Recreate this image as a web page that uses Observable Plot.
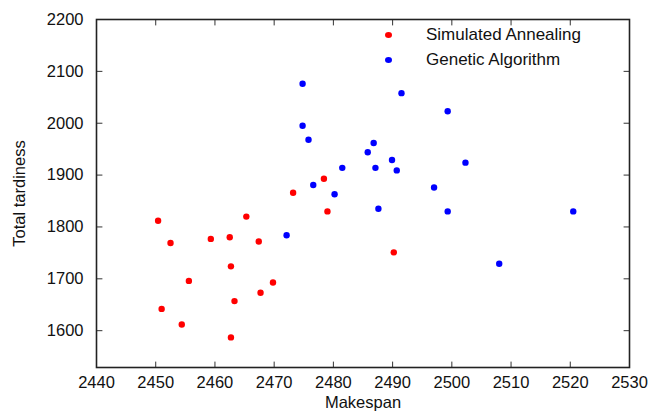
<!DOCTYPE html>
<html>
<head>
<meta charset="utf-8">
<script src="https://cdn.jsdelivr.net/npm/d3@7"></script>
<script src="https://cdn.jsdelivr.net/npm/@observablehq/plot@0.6"></script>
<style>
  html, body { margin: 0; padding: 0; background: #fff; }
  #wrap { position: relative; width: 661px; height: 411px; font-family: "Liberation Sans", Arial, Helvetica, sans-serif; }
  #legend { position: absolute; left: 380px; top: 22px; font-size: 17px; color: #111; }
  .row { display: flex; align-items: center; height: 25.5px; }
  .sw { width: 7px; height: 6px; border-radius: 50%; margin-left: 5px; margin-right: 34px; }
</style>
</head>
<body>
<div id="wrap"><div id="legend"></div></div>
<script>
const seriesNames = ["Simulated Annealing", "Genetic Algorithm"];
const seriesColors = ["#ff0000", "#0000ff"];

const saMakespan = [2450.4, 2452.5, 2459.3, 2462.5, 2465.3, 2467.4, 2455.6, 2462.7, 2469.8, 2467.7, 2463.3, 2451.0, 2454.4, 2462.7, 2479.0, 2473.2, 2478.4, 2490.2];
const saTardiness = [1812, 1769, 1777, 1780, 1820, 1772, 1696, 1724, 1693, 1673, 1657, 1642, 1612, 1587, 1830, 1866, 1893, 1751];

const gaMakespan = [2474.8, 2474.8, 2475.8, 2476.6, 2491.5, 2499.3, 2486.8, 2485.8, 2481.5, 2487.1, 2489.9, 2490.7, 2502.3, 2497.0, 2480.2, 2487.6, 2499.3, 2520.5, 2508.0, 2472.1];
const gaTardiness = [2076, 1995, 1968, 1881, 2058, 2023, 1962, 1944, 1914, 1914, 1929, 1909, 1924, 1876, 1863, 1835, 1830, 1830, 1729, 1784];

const xTicks = [2440, 2450, 2460, 2470, 2480, 2490, 2500, 2510, 2520, 2530];
const yTicks = [1600, 1700, 1800, 1900, 2000, 2100, 2200];

const points = [
  ...saMakespan.map((x, i) => ({x, y: saTardiness[i], s: seriesNames[0]})),
  ...gaMakespan.map((x, i) => ({x, y: gaTardiness[i], s: seriesNames[1]}))
];

const font = '"Liberation Sans", Arial, Helvetica, sans-serif';
const tickShape = {draw(ctx, l) { ctx.moveTo(0, 0); ctx.lineTo(0, -l); }};
const tickLen = 5.5;
const tickStyle = {length: tickLen, anchor: "start", shape: tickShape, stroke: "#333", strokeWidth: 1};

const chart = Plot.plot({
  width: 661,
  height: 411,
  marginLeft: 96,
  marginRight: 32,
  marginTop: 19,
  marginBottom: 44,
  style: {fontSize: "16.5px", fontFamily: font, color: "#111", background: "#fff"},
  x: {domain: [2440, 2530]},
  y: {domain: [1529, 2200]},
  color: {domain: seriesNames, range: seriesColors},
  marks: [
    Plot.dot(points, {x: "x", y: "y", fill: "s", r: 3.2, stroke: null}),
    // inward ticks on all four sides
    Plot.vector(xTicks, {x: d => d, frameAnchor: "bottom", rotate: 0, ...tickStyle}),
    Plot.vector(xTicks, {x: d => d, frameAnchor: "top", rotate: 180, ...tickStyle}),
    Plot.vector(yTicks, {y: d => d, frameAnchor: "left", rotate: 90, ...tickStyle}),
    Plot.vector(yTicks, {y: d => d, frameAnchor: "right", rotate: -90, ...tickStyle}),
    Plot.frame({stroke: "#222", strokeWidth: 1.6}),
    Plot.axisX({ticks: xTicks, tickSize: 0, tickPadding: 9, tickFormat: "d", label: "Makespan", labelAnchor: "center", labelOffset: 40, labelArrow: "none"}),
    Plot.axisY({ticks: yTicks, tickSize: 0, tickPadding: 13, tickFormat: "d", label: "Total tardiness", labelAnchor: "center", labelOffset: 83, labelArrow: "none"})
  ]
});

document.getElementById("wrap").prepend(chart);

const legend = document.getElementById("legend");
seriesNames.forEach((name, i) => {
  const row = document.createElement("div");
  row.className = "row";
  const sw = document.createElement("span");
  sw.className = "sw";
  sw.style.background = seriesColors[i];
  const t = document.createElement("span");
  t.textContent = name;
  row.append(sw, t);
  legend.append(row);
});
</script>
</body>
</html>
